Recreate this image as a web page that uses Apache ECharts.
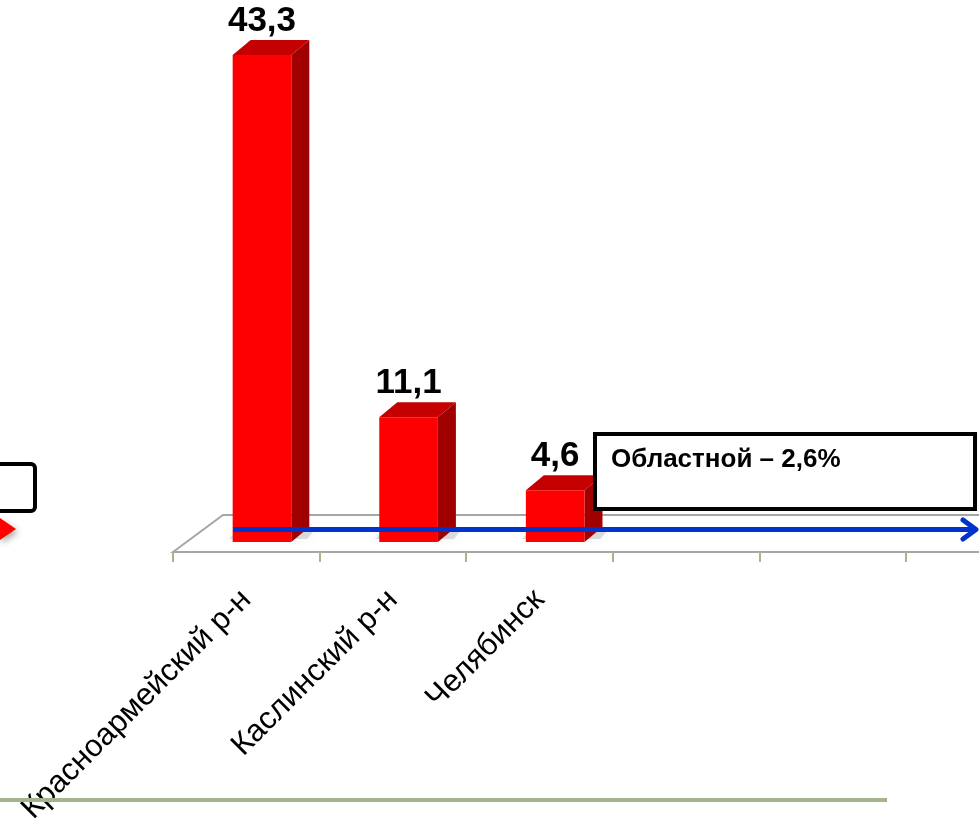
<!DOCTYPE html>
<html>
<head>
<meta charset="utf-8">
<script src="https://cdn.jsdelivr.net/npm/echarts@6/dist/echarts.min.js"></script>
<style>
html,body{margin:0;padding:0;background:#fff;}
#chart{width:979px;height:824px;}
</style>
</head>
<body>
<div id="chart"></div>
<script>
const categories = ['Красноармейский р-н', 'Каслинский р-н', 'Челябинск', '', ''];
const values = [43.3, 11.1, 4.6, null, null];
const regionalValue = 2.6;

function fmt(v) { return String(v).replace('.', ','); }

const barData = values.map((v, i) => [i, v]).filter(d => d[1] != null);

const chart = echarts.init(document.getElementById('chart'), null, { renderer: 'canvas' });

function renderItem(params, api) {
  const i = api.value(0), v = api.value(1);
  const base = api.coord([i, 0]);
  const top = api.coord([i, v]);
  const band = api.size([1, 0])[0];
  const cx = base[0] + 0.107 * band, hw = 0.2 * band;
  const l = cx - hw, r = cx + hw, b = base[1], t = top[1];
  const dx = 18, dy = -15;
  return {
    type: 'group',
    children: [
      { type: 'polygon', shape: { points: [[l - 4, b - 3], [l + 6, b - 13], [r + dx + 6, b - 13], [r + dx - 2, b - 3]] },
        style: { fill: 'rgba(0,0,0,0.12)', shadowBlur: 12, shadowColor: 'rgba(0,0,0,0.45)' } },
      { type: 'polygon', shape: { points: [[r, b], [r + dx, b + dy], [r + dx, t + dy], [r, t]] }, style: { fill: '#a00000' } },
      { type: 'polygon', shape: { points: [[l, t], [l + dx, t + dy], [r + dx, t + dy], [r, t]] }, style: { fill: '#c40000' } },
      { type: 'rect', shape: { x: l, y: t, width: r - l, height: b - t }, style: { fill: '#ff0000' } },
      { type: 'text', style: { text: fmt(v), x: cx, y: t + dy - 1, align: 'center', verticalAlign: 'bottom',
        font: 'bold 35px "Liberation Sans", Arial, sans-serif', fill: '#000' } }
    ]
  };
}

const option = {
  animation: false,
  backgroundColor: '#ffffff',
  grid: { left: 173, right: 73, top: 0, bottom: 272, containLabel: false, outerBoundsMode: 'none' },
  xAxis: {
    type: 'category',
    data: categories,
    boundaryGap: true,
    axisLine: { show: true, onZero: false, lineStyle: { color: '#a6a6a6', width: 2 } },
    axisTick: { show: true, inside: false, length: 10, interval: 0, lineStyle: { color: '#a3b68c', width: 2 } },
    axisLabel: {
      interval: 0, rotate: 45, margin: 43, color: '#000',
      fontSize: 31, fontFamily: '"Liberation Sans", Arial, sans-serif'
    },
    splitLine: { show: false }
  },
  yAxis: { type: 'value', min: -0.889, max: 48.19, show: false },
  graphic: [
    { type: 'polygon', z: -10, shape: { points: [[173, 552], [223, 515], [985, 515], [985, 552]] },
      style: { fill: '#ffffff', stroke: '#a6a6a6', lineWidth: 2 } },
    { type: 'line', z: 100, shape: { x1: 0, y1: 800, x2: 887, y2: 800 }, style: { stroke: '#a3b38f', lineWidth: 4 } },
    { type: 'rect', z: 100, shape: { x: -10, y: 464, width: 45, height: 47, r: 4 },
      style: { fill: '#fff', stroke: '#000', lineWidth: 4 } },
    { type: 'polygon', z: 100, shape: { points: [[0, 518], [16, 529], [0, 540]] },
      style: { fill: '#ff0000', shadowBlur: 6, shadowColor: 'rgba(0,0,0,0.35)', shadowOffsetX: 2, shadowOffsetY: 3 } },
    { type: 'line', z: 100, shape: { x1: 233, y1: 529.5, x2: 976, y2: 529.5 },
      style: { stroke: '#0033cc', lineWidth: 5 } },
    { type: 'polyline', z: 100, shape: { points: [[963, 520], [976, 529.5], [963, 539]] },
      style: { stroke: '#0033cc', lineWidth: 5, lineCap: 'round', lineJoin: 'round', fill: null } },
    { type: 'rect', z: 100, shape: { x: 595, y: 434, width: 380, height: 75 },
      style: { fill: '#fff', stroke: '#000', lineWidth: 4 } },
    { type: 'text', z: 101, style: { text: 'Областной – ' + fmt(regionalValue) + '%', x: 611, y: 460,
      verticalAlign: 'middle', align: 'left', font: 'bold 26px "Liberation Sans", Arial, sans-serif', fill: '#000' } }
  ],
  series: [{
    type: 'custom',
    renderItem: renderItem,
    data: barData,
    clip: false,
    encode: { x: 0, y: 1 }
  }]
};
chart.setOption(option);
</script>
</body>
</html>
